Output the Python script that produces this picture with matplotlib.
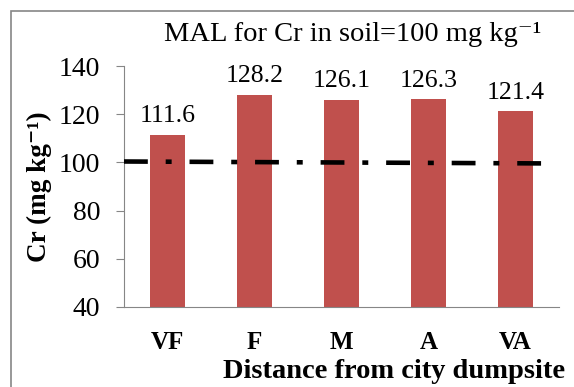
import numpy as np
import matplotlib.pyplot as plt
from matplotlib.patches import Rectangle

sites = ["VF", "F", "M", "A", "VA"]
cr_values = [111.6, 128.2, 126.1, 126.3, 121.4]
mal_x = [-0.5, 4.35]
mal_line = [100.4, 99.6]   # slightly sloped, as in the original
yticks = [40, 60, 80, 100, 120, 140]

plt.rcParams["font.family"] = ["Liberation Serif", "DejaVu Serif"]

fig = plt.figure(figsize=(5.74, 3.87), dpi=100)
ax = fig.add_axes([0.216, 0.207, 0.758, 0.622])

x = np.arange(len(sites))
ax.bar(x, cr_values, width=0.41, color="#C0504D", zorder=2)
for xi, v in zip(x, cr_values):
    ax.text(xi, v + 3, f"{v:.1f}", ha="center", va="bottom", fontsize=18.5)

ax.plot(mal_x, mal_line, color="black", lw=3.3,
        dashes=(5.2, 3.9, 1.3, 3.9), zorder=3)

ax.set_xlim(-0.5, 4.5)
ax.set_ylim(40, 140)
ax.set_yticks(yticks)
ax.tick_params(axis="y", labelsize=20, length=6, color="#868686", pad=11)
ax.set_xticks(x)
ax.set_xticklabels(sites, fontsize=18, fontweight="bold")
ax.tick_params(axis="x", length=0, pad=17)

for side in ["top", "right"]:
    ax.spines[side].set_visible(False)
for side in ["left", "bottom"]:
    ax.spines[side].set_color("#868686")

ax.set_ylabel("Cr (mg kg\u207b\u00b9)", fontsize=19.5, fontweight="bold")
ax.yaxis.set_label_coords(-0.165, 0.5)
ax.set_xlabel("Distance from city dumpsite", fontsize=20.5, fontweight="bold")
ax.xaxis.set_label_coords(0.62, -0.215)

fig.text(0.614, 0.91, "MAL for Cr in soil=100 mg kg\u207b\u00b9", ha="center",
         va="center", fontsize=20.5)

fig.patches.append(Rectangle((11 / 574, -0.05), 1.0, 1.05 - 11 / 387,
                             transform=fig.transFigure, fill=False,
                             edgecolor="#868686", lw=1.2))

plt.savefig("out.png", dpi=100)
